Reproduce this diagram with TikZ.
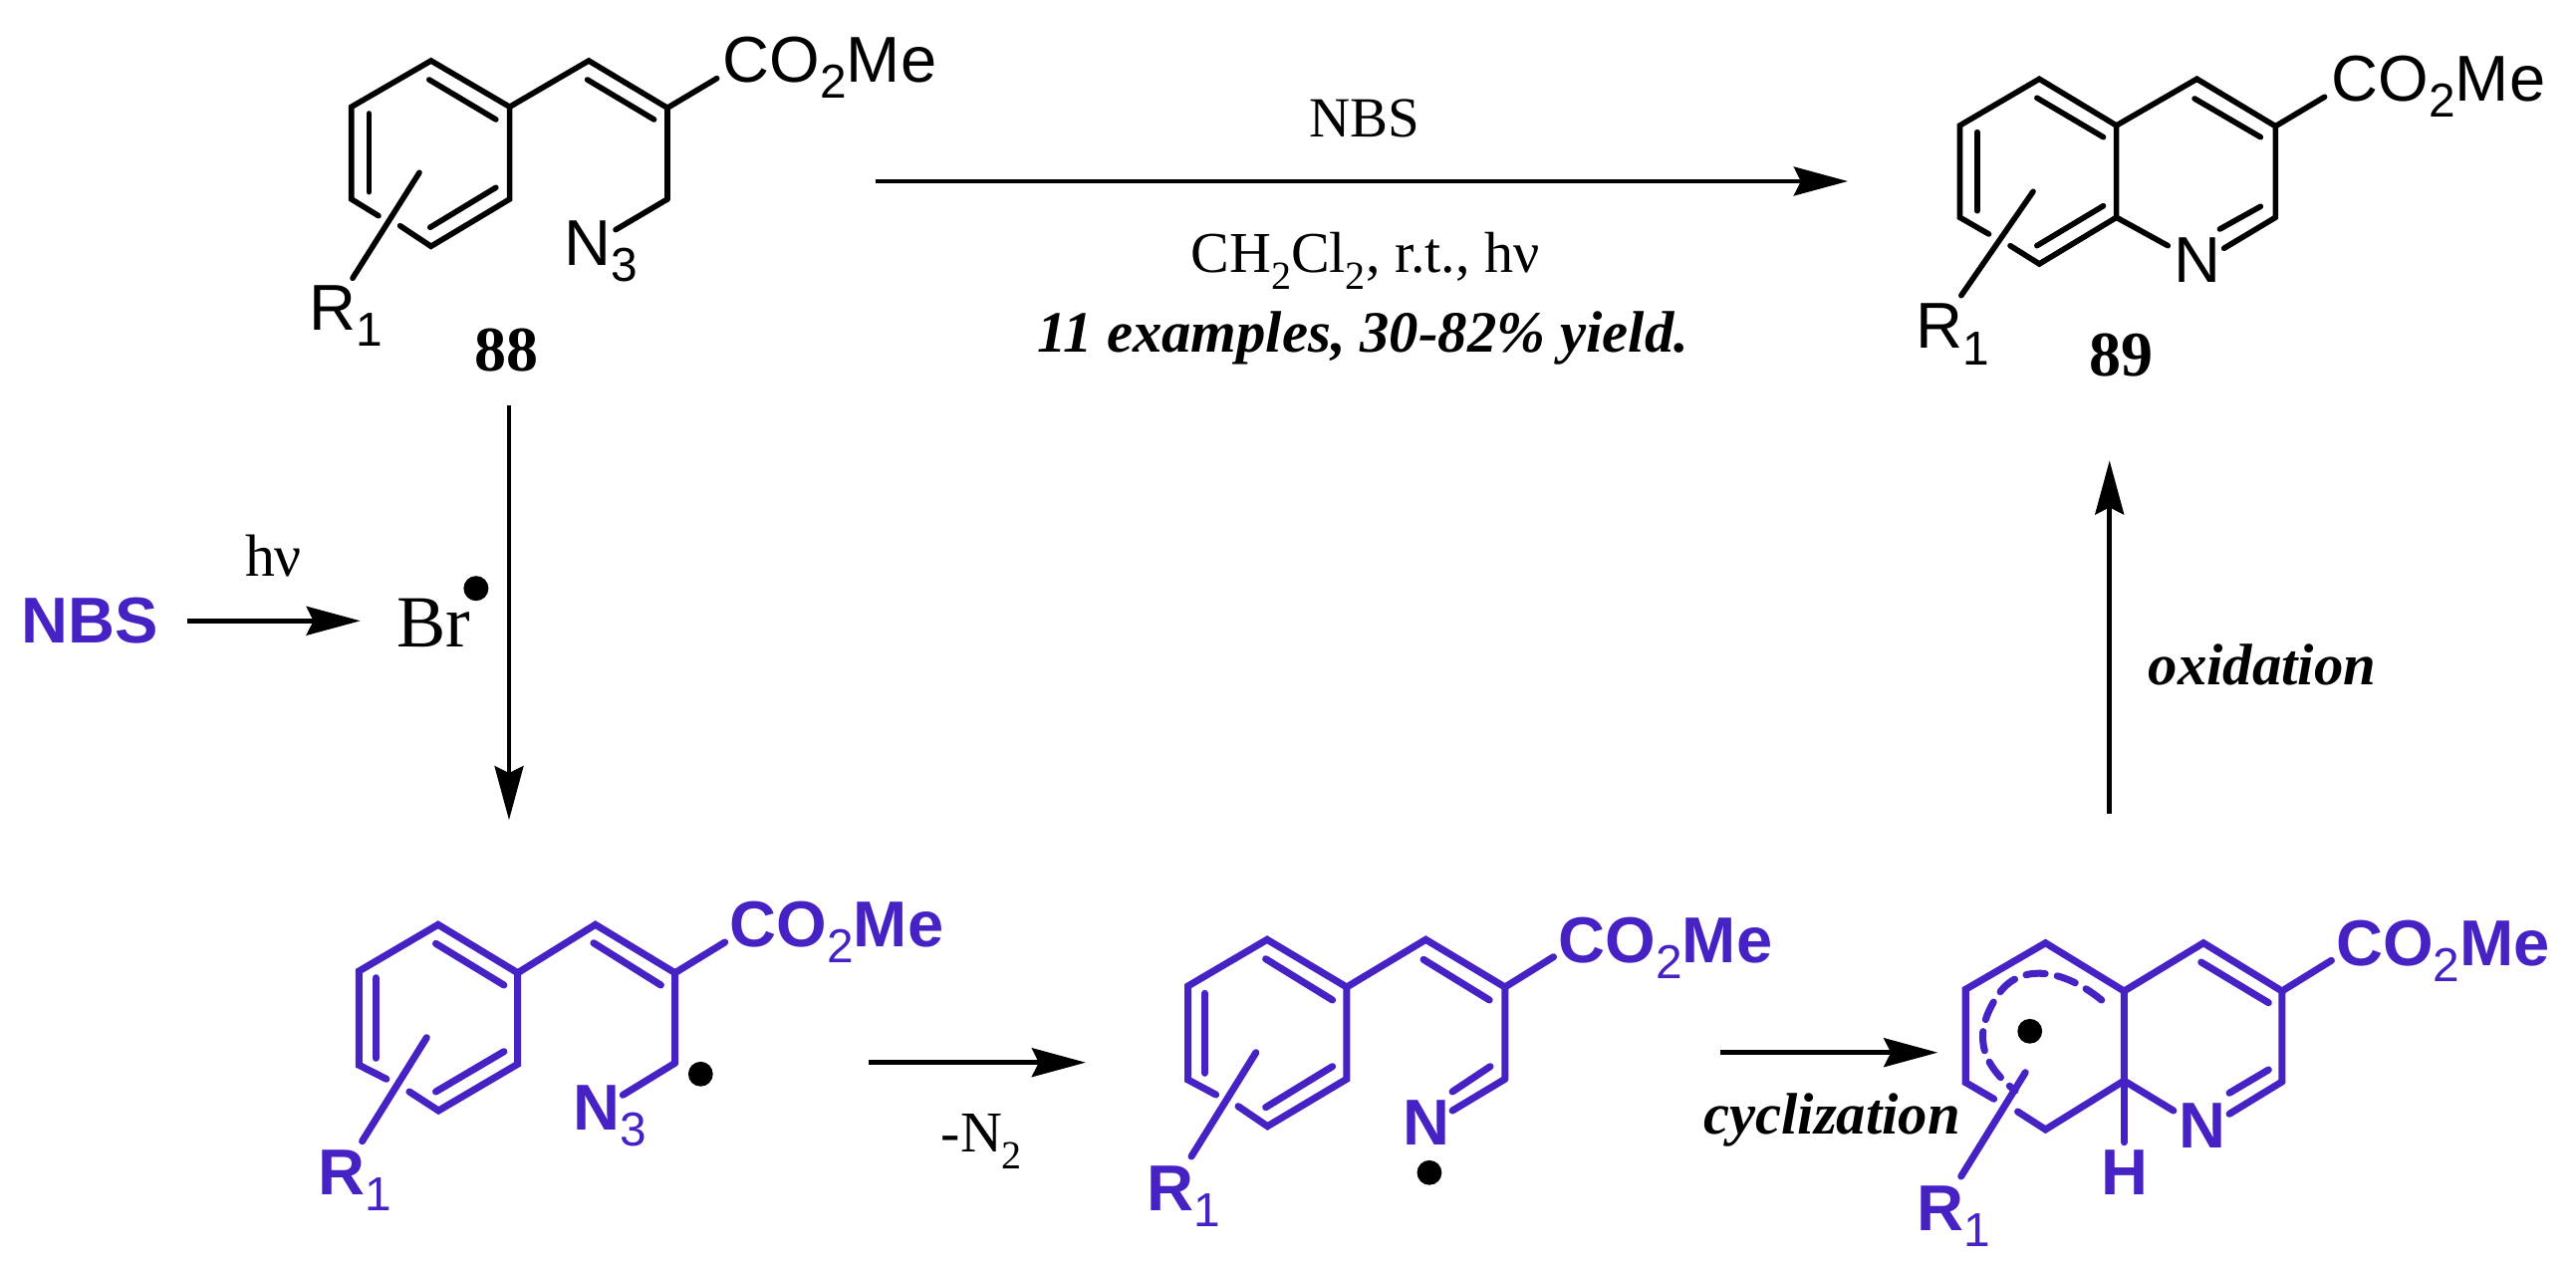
\documentclass[tikz,border=0pt]{standalone}
\usepackage{fontspec}
\setmainfont{Liberation Serif}
\newfontfamily\chemfont{Liberation Sans}
\usetikzlibrary{arrows.meta}

\definecolor{molblue}{HTML}{4621C3}

% a bare coordinate is one pixel of the picture
\newcommand{\chemsub}[1]{\raisebox{-4.6pt}{\fontsize{13.6pt}{14pt}\mdseries\selectfont #1}}
\newcommand{\serifsub}[1]{\raisebox{-4.8pt}{\fontsize{11.4pt}{12pt}\selectfont #1}}
\newcommand{\atoms}[2]{\foreach \n/\x/\y in {#2} \coordinate (#1\n) at (\x,\y);}
\newcommand{\skeleton}[2]{
  \draw[#2] (#1k) -- (#1c) -- (#1b) -- (#1a) -- (#1f) -- (#1e) -- (#1d) -- (#1l);
  \draw[#2] (#1f) -- (#1g) -- (#1h) -- (#1j);
  \foreach \u/\v in {h/i,m/n,v/w} \draw[#2] (#1\u) -- (#1\v);
}

\tikzset{
  bond/.style={line width=1.6pt, line cap=round, miter limit=4},
  molbond/.style={bond, line width=2pt, molblue},
  chem/.style={font=\chemfont\fontsize{18.5pt}{20pt}\selectfont, inner sep=0pt, anchor=base west},
  molchem/.style={chem, font=\chemfont\bfseries\fontsize{18.5pt}{20pt}\selectfont, text=molblue},
  cond/.style={font=\fontsize{16.5pt}{18pt}\selectfont, inner sep=0pt, anchor=base},
  condit/.style={cond, font=\bfseries\itshape\fontsize{16.7pt}{18pt}\selectfont},
  cmpd/.style={inner sep=0pt, anchor=base, font=\bfseries\fontsize{18.2pt}{20pt}\selectfont},
  rxn/.style={line width=1.35pt, -{Stealth[length=15.4pt,width=8.2pt,inset=2pt]}},
}

\begin{document}
\begin{tikzpicture}[x=0.01cm, y=-0.01cm]
  \useasboundingbox (0,0) rectangle (2586,1271);

  % substrate
  \atoms{sa}{a/432.7/61, b/352.8/107.3, c/352.8/200, d/432.7/247.3, e/511.6/200, f/511.6/107.3,
    g/591/61, h/670/108.3, i/719.7/78.7, j/670/200, k/380/216.7, l/401.6/226.7,
    m/421/173.3, n/354/279.3, o/618/230.7, p/370.5/114, q/370.5/192.7,
    r/430.8/80, s/497.8/120, t/497.8/188.3, u/431.8/228.3, v/589.6/80, w/656.6/120}
  \skeleton{sa}{bond}
  \foreach \u/\v in {p/q,r/s,t/u,j/o} \draw[bond] (sa\u) -- (sa\v);
  \node[chem] (saester) at (725,82.7) {CO\chemsub{2}Me};
  \node[chem] (saazide) at (566,266.7) {N\chemsub{3}};
  \node[chem] (sarest) at (310,331.7) {R\chemsub{1}};
  \node[cmpd] (cmpdA) at (508.3,372.7) {88};

  % product
  \atoms{sb}{a/2047.2/79.3, b/1967.4/126, c/1967.4/218.3, d/2047.2/265, e/2124.6/218.3, f/2124.6/126,
    g/2205.4/79.3, h/2284.3/126.7, i/2333.6/97.3, j/2284.3/218.3, k/1996.5/235, l/2018/246.7,
    m/2041/192.3, n/1968.8/296.7, o/2176.3/246.7, y/2232.6/249.3, p/1984.7/132.7, q/1984.7/211.7,
    r/2044.8/98.3, s/2111.5/137.7, t/2111.5/206.7, u/2044.8/246.7, v/2203/99, w/2269.3/137.7,
    z/2269.3/207.3, x/2228.4/230}
  \skeleton{sb}{bond}
  \foreach \u/\v in {p/q,r/s,t/u,e/f,e/o,j/y,z/x} \draw[bond] (sb\u) -- (sb\v);
  \node[chem] (sbester) at (2340,101.7) {CO\chemsub{2}Me};
  \node[chem] (sbnitro) at (2182,284) {N};
  \node[chem] (sbrest) at (1923,350) {R\chemsub{1}};
  \node[cmpd] (cmpdB) at (2129.3,377.7) {89};

  % allyl radical
  \atoms{sc}{a/439.8/928.3, b/360.3/975, c/360.3/1069.3, d/440.2/1115, e/519.7/1068.3, f/519.7/976.7,
    g/597.7/928.3, h/677.6/976.7, i/727.7/946, j/677.6/1067.3, k/387.9/1083.3, l/410.9/1096,
    m/428.3/1041.7, n/363.6/1145.7, o/625.3/1099.3, p/377.3/981.7, q/377.3/1062.3,
    r/437.5/947.3, s/505.9/989, t/505.9/1055.7, u/437.5/1096, v/595.9/946.7, w/663.4/989,
    y/703.3/1078.3}
  \skeleton{sc}{molbond}
  \foreach \u/\v in {p/q,r/s,t/u,j/o} \draw[molbond] (sc\u) -- (sc\v);
  \node[molchem] (scester) at (732,950) {CO\chemsub{2}Me};
  \node[molchem] (scazide) at (575,1134.3) {N\chemsub{3}};
  \node[molchem] (screst) at (319,1199.3) {R\chemsub{1}};
  \fill (scy) circle [radius=12.4];

  % iminyl radical
  \atoms{sd}{a/1272/943.3, b/1192.5/990, c/1192.5/1084, d/1272.4/1130.7, e/1351.9/1083.3, f/1351.9/991,
    g/1431.3/943.3, h/1510.8/991, i/1559.5/960.7, j/1510.8/1083.3, k/1220.6/1099, l/1243/1110.7,
    m/1260.8/1056.7, n/1196/1161, o/1458/1115, p/1209.5/997.3, q/1209.5/1077.3,
    r/1270.6/962.7, s/1337.6/1004, t/1337.6/1070.7, u/1270.6/1111.7, v/1429/963.3, w/1495.2/1004,
    z/1496/1070.7, x/1458/1096, y/1434.9/1177.3}
  \skeleton{sd}{molbond}
  \foreach \u/\v in {p/q,r/s,t/u,j/o,z/x} \draw[molbond] (sd\u) -- (sd\v);
  \node[molchem] (sdester) at (1564,966.7) {CO\chemsub{2}Me};
  \node[molchem] (sdnitro) at (1408,1149.3) {N};
  \node[molchem] (sdrest) at (1151,1215) {R\chemsub{1}};
  \fill (sdy) circle [radius=12.4];

  % cyclized radical
  \atoms{se}{a/2053.4/946.7, b/1973.2/993.3, c/1973.2/1086.7, d/2053.4/1134, e/2132.3/1085, f/2132.3/995,
    g/2212/946.7, h/2290.8/995, i/2340.4/964.3, j/2290.8/1086, k/2001.6/1103.3, l/2025.5/1116,
    m/2033.2/1076.7, n/1968.7/1181, o/2181.8/1115, v/2209.7/966, w/2277.3/1006.7,
    z/2277.3/1074, x/2238/1097.3, t/2238/1118.3, u/2132.3/1146.7, y/2037.7/1035.3,
    p/2109.7/1004, q/2023/1095}
  \skeleton{se}{molbond}
  \foreach \u/\v in {e/f,e/o,e/u,j/t,z/x} \draw[molbond] (se\u) -- (se\v);
  \draw[molbond, dash pattern=on 5.5pt off 3.5pt] (sep) .. controls (2068,970) and (2025,968) .. (2005,1000)
    .. controls (1982,1035) and (1985,1065) .. (seq);
  \node[molchem] (seester) at (2344.5,969.3) {CO\chemsub{2}Me};
  \node[molchem] (senitro) at (2187,1152.3) {N};
  \node[molchem] (sehydro) at (2108.5,1199.3) {H};
  \node[molchem] (serest) at (1923.5,1235.7) {R\chemsub{1}};
  \fill (sey) circle [radius=12.4];

  % NBS and bromine radical
  \node[molchem] (nbs) at (21,645.7) {NBS};
  \node[inner sep=0pt, anchor=base west, font=\fontsize{21pt}{22pt}\selectfont] (br) at (398,649.3) {Br};
  \fill (477.9,590.7) circle [radius=12.5];
  \node[cond, font=\fontsize{17pt}{18pt}\selectfont] (hnu) at (274.5,578.3) {hν};

  % top conditions
  \node[cond, font=\fontsize{16.2pt}{18pt}\selectfont] (lblnbs) at (1369.6,137.3) {NBS};
  \node[cond] (lblsolv) at (1370.5,273.3) {CH\serifsub{2}Cl\serifsub{2}, r.t., hν};
  \node[condit] (lblyield) at (1368,353.3) {11 examples, 30-82\% yield.};

  % arrow labels
  \node[cond, anchor=base west] (lblntwo) at (944,1156.7) {-N\serifsub{2}};
  \node[condit, anchor=base west] (lblcyc) at (1709.5,1138.3) {cyclization};
  \node[condit, anchor=base west] (lblox) at (2156,687.3) {oxidation};

  % arrows
  \coordinate (topS) at (879.2,182);
  \coordinate (topE) at (1855,182);
  \coordinate (downS) at (511,406.7);
  \coordinate (downE) at (511,823.3);
  \coordinate (lightS) at (187.5,623.3);
  \coordinate (lightE) at (361.8,623.3);
  \coordinate (lossS) at (871.7,1066.7);
  \coordinate (lossE) at (1090,1066.7);
  \coordinate (cycS) at (1727.3,1056.7);
  \coordinate (cycE) at (1945.3,1056.7);
  \coordinate (oxS) at (2117.7,816.7);
  \coordinate (oxE) at (2117.7,462.3);
  \foreach \a in {top,down,light,loss,cyc,ox} \draw[rxn] (\a S) -- (\a E);
\end{tikzpicture}
\end{document}
